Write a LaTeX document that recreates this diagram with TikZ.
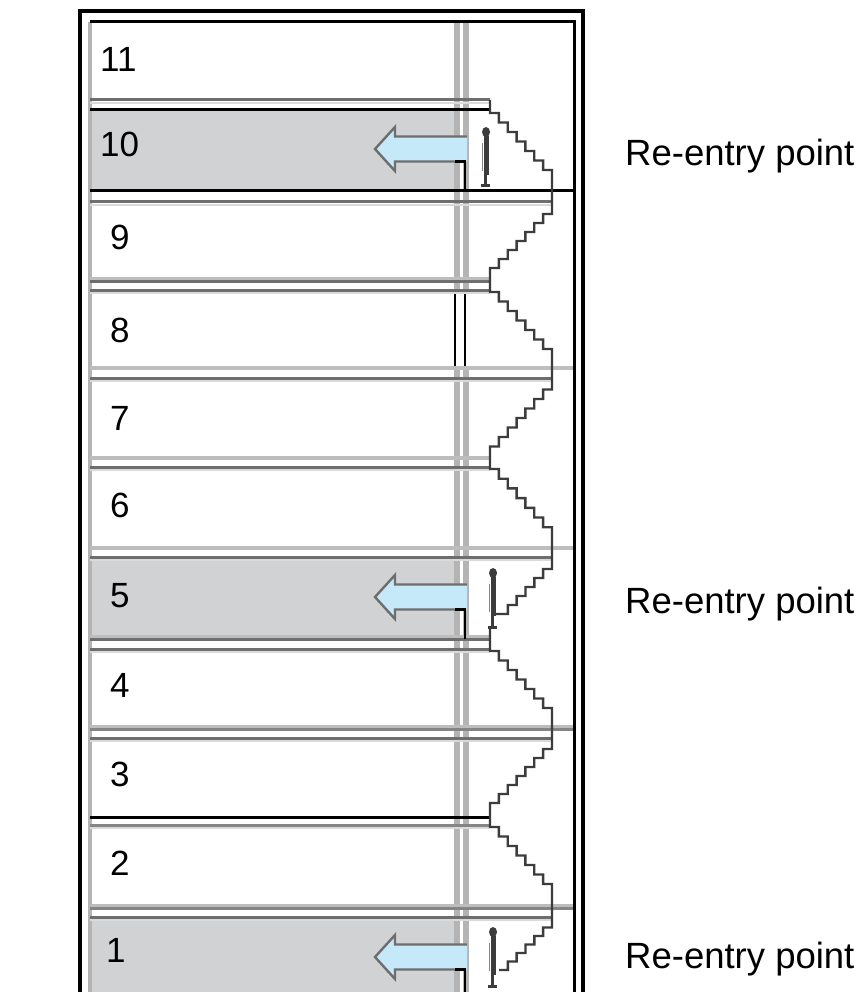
\documentclass[tikz,border=0pt]{standalone}
\usepackage{fontspec}
\setmainfont{Liberation Sans}
\definecolor{fillg}{HTML}{D1D2D4}
\definecolor{barg}{HTML}{B4B4B4}
\definecolor{darkg}{HTML}{6E6E6E}
\definecolor{lightg}{HTML}{BDBDBD}
\definecolor{paleg}{HTML}{DADADA}
\definecolor{midg}{HTML}{858585}
\definecolor{arrowblue}{HTML}{C6E9FA}
\definecolor{zigc}{HTML}{3C3C3C}
\newcommand\retarrow[2]{%
  \fill[arrowblue] (467,#1-12.5) -- (395,#1-12.5) -- (395,#1-22) -- (375,#1) -- (395,#1+22) -- (395,#1+12.5) -- (467,#1+12.5) -- cycle;
  \draw[darkg,line width=2.4pt,line join=miter] (467,#1-12.5) -- (395,#1-12.5) -- (395,#1-22) -- (375,#1) -- (395,#1+22) -- (395,#1+12.5) -- (455,#1+12.5);
  \draw[black,line width=2.4pt] (455,#1+12.5) -- (465,#1+12.5) -- (465,#2);
}
\newcommand\edge[3]{% y, right end, style ; with pale band below
  \draw[paleg,line width=2.5pt] (90,#1+2.8) -- (#2,#1+2.8);
  \draw[#3] (90,#1) -- (#2,#1);
}
\tikzset{
  walker/.pic={
    \fill[zigc] (0,5) ellipse (4pt and 5pt);
    \draw[zigc,line width=5pt] (0,9) -- (0,48);
    \draw[midg,line width=1.2pt] (-3.5,16) -- (-3.5,44);
    \draw[zigc,line width=3.5pt] (-0.5,48) -- (-0.5,58);
    \draw[zigc,line width=3pt] (-5,59) -- (4,59);
  }
}
\begin{document}
\begin{tikzpicture}[x=1pt,y=-1pt,
  blk/.style={draw=black,line width=3pt},
  dgl/.style={draw=darkg,line width=3pt},
  lgl/.style={draw=lightg,line width=4.5pt},
  mgl/.style={draw=midg,line width=3pt},
  num/.style={anchor=base west,font=\fontsize{35}{40}\selectfont,inner sep=0pt},
  lbl/.style={anchor=base west,font=\fontsize{36.5}{40}\selectfont,inner sep=0pt},
  zig/.style={draw=zigc,line width=2.4pt,line join=miter},
]
\clip (0,0) rectangle (860,992);
\fill[white] (0,0) rectangle (860,992);
% shaded rows
\fill[fillg] (90,110) rectangle (457,191);
\fill[fillg] (90,557) rectangle (457,639);
\fill[fillg] (90,917) rectangle (457,1000);
% vertical bars
\draw[barg,line width=4pt] (90,22) -- (90,1000);
\draw[barg,line width=5.5pt] (457,22) -- (457,1000);
\draw[barg,line width=5.5pt] (466,22) -- (466,1000);
\fill[white] (453,292) rectangle (470,367);
\draw[black,line width=2.2pt] (455,290) -- (455,368);
\draw[black,line width=2.2pt] (465,290) -- (465,368);
% horizontal row edges
\draw[blk] (90,22) -- (574,22);
\edge{100}{490}{dgl}
\draw[blk] (90,110) -- (490,110);
\draw[blk] (90,191) -- (574,191);
\edge{202}{552}{dgl}
\draw[lgl] (90,279) -- (490,279);
\draw[dgl] (90,281) -- (490,281);
\edge{290}{490}{dgl}
\draw[lgl] (90,368) -- (574,368);
\edge{378}{552}{dgl}
\draw[lgl] (90,458) -- (490,458);
\edge{467}{490}{dgl}
\draw[lgl] (90,548) -- (574,548);
\edge{557}{552}{dgl}
\draw[lgl] (90,637) -- (490,637);
\draw[dgl] (90,639) -- (490,639);
\edge{649}{490}{dgl}
\draw[lgl] (90,727) -- (574,727);
\draw[mgl] (90,729) -- (574,729);
\edge{738}{552}{dgl}
\draw[blk] (90,817) -- (490,817);
\edge{825}{490}{mgl}
\draw[lgl] (90,906) -- (574,906);
\draw[mgl] (90,908) -- (574,908);
\edge{917}{552}{dgl}
% re-entry arrows
\retarrow{149}{191}
\retarrow{597}{639}
\retarrow{957}{1000}
% zigzag tear line
\draw[zig] (490,100) -- (490,113)
  foreach \i in {1,...,7}{ -- ++(8.857,0) -- ++(0,9.5) }
  -- (552,205)
  foreach \i in {1,...,7}{ -- ++(0,9) -- ++(-8.857,0) }
  -- (490,292)
  foreach \i in {1,...,7}{ -- ++(8.857,0) -- ++(0,9.5) }
  -- (552,380)
  foreach \i in {1,...,7}{ -- ++(0,9.5) -- ++(-8.857,0) }
  -- (490,469)
  foreach \i in {1,...,7}{ -- ++(8.857,0) -- ++(0,9.7) }
  -- (552,560)
  foreach \i in {1,...,6}{ -- ++(0,9) -- ++(-8.83,0) }
  -- ++(-6,0);
\draw[zig] (490,628) -- (490,651)
  foreach \i in {1,...,7}{ -- ++(8.857,0) -- ++(0,9.5) }
  -- (552,740)
  foreach \i in {1,...,7}{ -- ++(0,9) -- ++(-8.857,0) }
  -- (490,827)
  foreach \i in {1,...,7}{ -- ++(8.857,0) -- ++(0,9.5) }
  -- (552,919)
  foreach \i in {1,...,6}{ -- ++(0,8.5) -- ++(-8.83,0) };
% little figures
\pic at (486,127) {walker};
\pic at (493,568) {walker};
\pic at (493,927) {walker};
% frames
\draw[black,line width=3.5pt] (80,1000) -- (80,11) -- (583,11) -- (583,1000);
\draw[black,line width=3pt] (467,22) -- (574,22) -- (574,1000);
% numbers
\node[num] (n11) at (100,72) {11};
\node[num] (n10) at (100,157) {10};
\node[num] (n9) at (110,250) {9};
\node[num] (n8) at (110,342) {8};
\node[num] (n7) at (110,430) {7};
\node[num] (n6) at (110,517) {6};
\node[num] (n5) at (110,607) {5};
\node[num] (n4) at (110,697) {4};
\node[num] (n3) at (110,786) {3};
\node[num] (n2) at (110,875) {2};
\node[num] (n1) at (106,962) {1};
% labels
\node[lbl] (r10) at (625,166) {Re-entry point};
\node[lbl] (r5) at (625,613) {Re-entry point};
\node[lbl] (r1) at (625,968) {Re-entry point};
\end{tikzpicture}
\end{document}
